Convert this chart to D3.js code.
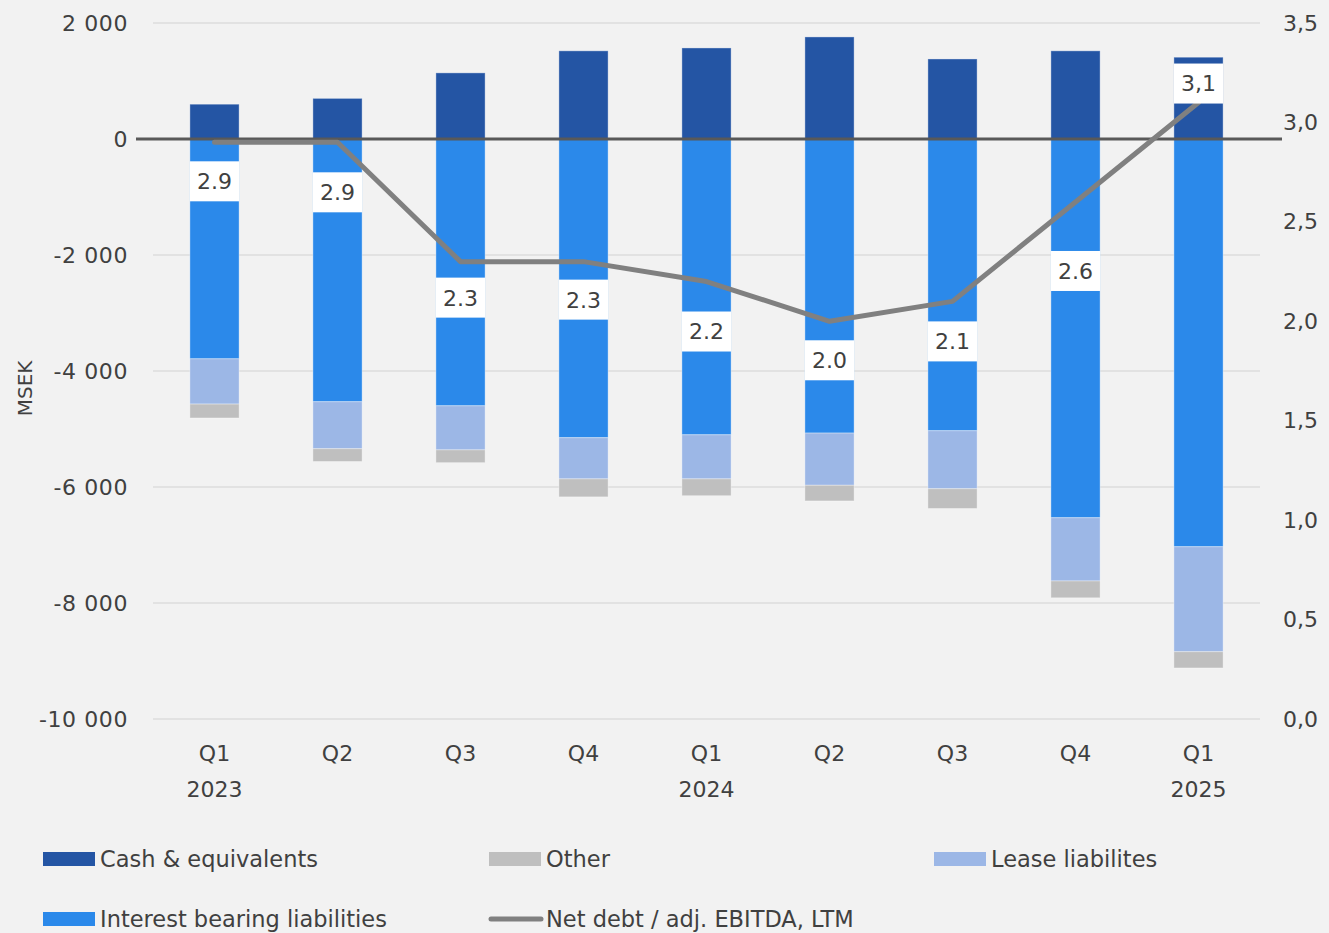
<!DOCTYPE html>
<html>
<head>
<meta charset="utf-8">
<script src="https://cdn.jsdelivr.net/npm/d3@7"></script>
<style>
  html, body { margin: 0; padding: 0; background: #f2f2f2; }
  svg { display: block; font-family: "DejaVu Sans", "Noto Sans", sans-serif; }
</style>
</head>
<body>
<svg id="chart" width="1329" height="933"></svg>
<script>
// Quarterly balance-sheet components (MSEK)
const quarters = ["Q1", "Q2", "Q3", "Q4", "Q1", "Q2", "Q3", "Q4", "Q1"];
const years = ["2023", "", "", "", "2024", "", "", "", "2025"];
const cash = [600, 700, 1140, 1520, 1570, 1760, 1380, 1520, 1410];
const interestBearing = [-3790, -4530, -4600, -5150, -5100, -5070, -5030, -6530, -7030];
const leaseLiabilities = [-780, -810, -760, -710, -760, -900, -1000, -1090, -1810];
const other = [-240, -220, -220, -310, -290, -270, -340, -290, -280];
// Net debt / adj. EBITDA, LTM
const leverage = [2.9, 2.9, 2.3, 2.3, 2.2, 2.0, 2.1, 2.6, 3.1];
const leverageLabels = ["2.9", "2.9", "2.3", "2.3", "2.2", "2.0", "2.1", "2.6", "3,1"];
const leftTicks = [2000, 0, -2000, -4000, -6000, -8000, -10000];
const rightTicks = [0, 0.5, 1.0, 1.5, 2.0, 2.5, 3.0, 3.5];

// vertical placement of each ratio label relative to its point (px)
const labelShift = [39, 50, 36, 38, 50, 39, 40, 69, -19];

const colors = {
  cash: "#2455a4",
  interest: "#2b89ea",
  lease: "#9cb7e6",
  other: "#bfbfbf",
  line: "#808080",
  zero: "#595959",
  grid: "#e2e2e2",
  text: "#404040"
};
const FS = 22;

const svg = d3.select("#chart");
const plot = { left: 153, right: 1260, top: 23, bottom: 719 };

const x = d3.scaleBand()
  .domain(d3.range(quarters.length))
  .range([plot.left, plot.right])
  .paddingInner(0.6)
  .paddingOuter(0.3);

const y = d3.scaleLinear().domain([-10000, 2000]).range([plot.bottom, plot.top]);
const y2 = d3.scaleLinear().domain([0, 3.5]).range([plot.bottom, plot.top]);

// gridlines
svg.append("g")
  .selectAll("line")
  .data(leftTicks.filter(d => d !== 0))
  .join("line")
  .attr("x1", plot.left).attr("x2", plot.right)
  .attr("y1", d => y(d)).attr("y2", d => y(d))
  .attr("stroke", colors.grid).attr("stroke-width", 2);

// left axis labels: space as thousands separator, plain hyphen for minus
const fmtLeft = v => d3.format(",")(v).replace(/,/g, " ").replace("\u2212", "-");
const leftAxis = d3.axisLeft(y).tickValues(leftTicks).tickSize(0).tickPadding(0)
  .tickFormat(fmtLeft);
svg.append("g")
  .attr("transform", `translate(128,0)`)
  .call(leftAxis)
  .call(g => g.select(".domain").remove())
  .call(g => g.selectAll("text")
    .attr("fill", colors.text).attr("font-size", FS)
    .attr("font-family", "DejaVu Sans")
    .attr("letter-spacing", 0.6));

// right axis labels, decimal comma
const rightAxis = d3.axisRight(y2).tickValues(rightTicks).tickSize(0).tickPadding(0)
  .tickFormat(v => d3.format(".1f")(v).replace(".", ","));
svg.append("g")
  .attr("transform", `translate(1283,0)`)
  .call(rightAxis)
  .call(g => g.select(".domain").remove())
  .call(g => g.selectAll("text")
    .attr("fill", colors.text).attr("font-size", FS)
    .attr("font-family", "DejaVu Sans"));

// axis title
svg.append("text")
  .attr("transform", `translate(32,${y(-4300)}) rotate(-90)`)
  .attr("text-anchor", "middle")
  .attr("fill", colors.text)
  .attr("font-size", 20)
  .text("MSEK");

// stacked bars
const rows = quarters.map((q, i) => ({
  i,
  segs: [
    { key: "cash", y0: 0, y1: cash[i] },
    { key: "interest", y0: 0, y1: interestBearing[i] },
    { key: "lease", y0: interestBearing[i], y1: interestBearing[i] + leaseLiabilities[i] },
    { key: "other", y0: interestBearing[i] + leaseLiabilities[i],
      y1: interestBearing[i] + leaseLiabilities[i] + other[i] }
  ]
}));

const barG = svg.append("g");
rows.forEach(r => {
  barG.selectAll(null)
    .data(r.segs)
    .join("rect")
    .attr("x", x(r.i))
    .attr("width", x.bandwidth())
    .attr("y", d => y(Math.max(d.y0, d.y1)))
    .attr("height", d => Math.abs(y(d.y0) - y(d.y1)))
    .attr("fill", d => colors[d.key])
    .attr("stroke", "rgba(255,255,255,0.35)")
    .attr("stroke-width", 1);
});

// zero line
svg.append("line")
  .attr("x1", 136).attr("x2", 1282)
  .attr("y1", y(0)).attr("y2", y(0))
  .attr("stroke", colors.zero).attr("stroke-width", 3);

// leverage line
const cx = i => x(i) + x.bandwidth() / 2;
svg.append("path")
  .datum(leverage)
  .attr("fill", "none")
  .attr("stroke", colors.line)
  .attr("stroke-width", 5)
  .attr("stroke-linecap", "round")
  .attr("stroke-linejoin", "round")
  .attr("d", d3.line().x((d, i) => cx(i)).y(d => y2(d)));

// ratio labels on white boxes
const lab = svg.append("g").selectAll("g")
  .data(leverage)
  .join("g")
  .attr("transform", (d, i) => `translate(${cx(i)},${y2(d) + labelShift[i]})`);
lab.append("rect")
  .attr("x", -x.bandwidth() / 2).attr("width", x.bandwidth())
  .attr("y", -20).attr("height", 40)
  .attr("fill", "#ffffff");
lab.append("text")
  .attr("text-anchor", "middle")
  .attr("dy", "0.36em")
  .attr("font-size", FS)
  .attr("fill", colors.text)
  .text((d, i) => leverageLabels[i]);

// x labels
const xl = svg.append("g");
xl.selectAll("text.q")
  .data(quarters)
  .join("text")
  .attr("x", (d, i) => cx(i))
  .attr("y", 761)
  .attr("text-anchor", "middle")
  .attr("font-size", FS)
  .attr("fill", colors.text)
  .text(d => d);
xl.selectAll("text.yr")
  .data(years)
  .join("text")
  .attr("x", (d, i) => cx(i))
  .attr("y", 797)
  .attr("text-anchor", "middle")
  .attr("font-size", FS)
  .attr("fill", colors.text)
  .text(d => d);

// legend
const legendItems = [
  { label: "Cash & equivalents", color: colors.cash, type: "rect", x: 43, y: 859 },
  { label: "Other", color: colors.other, type: "rect", x: 489, y: 859 },
  { label: "Lease liabilites", color: colors.lease, type: "rect", x: 934, y: 859 },
  { label: "Interest bearing liabilities", color: colors.interest, type: "rect", x: 43, y: 919 },
  { label: "Net debt / adj. EBITDA, LTM", color: colors.line, type: "line", x: 489, y: 919 }
];
const lg = svg.append("g").selectAll("g")
  .data(legendItems)
  .join("g")
  .attr("transform", d => `translate(${d.x},${d.y})`);
lg.filter(d => d.type === "rect").append("rect")
  .attr("x", 0).attr("y", -7).attr("width", 52).attr("height", 14)
  .attr("fill", d => d.color);
lg.filter(d => d.type === "line").append("line")
  .attr("x1", 2).attr("x2", 52).attr("y1", 0).attr("y2", 0)
  .attr("stroke", d => d.color).attr("stroke-width", 5)
  .attr("stroke-linecap", "round");
lg.append("text")
  .attr("x", 57)
  .attr("dy", "0.36em")
  .attr("font-size", 22.5)
  .attr("fill", colors.text)
  .text(d => d.label);
</script>
</body>
</html>
